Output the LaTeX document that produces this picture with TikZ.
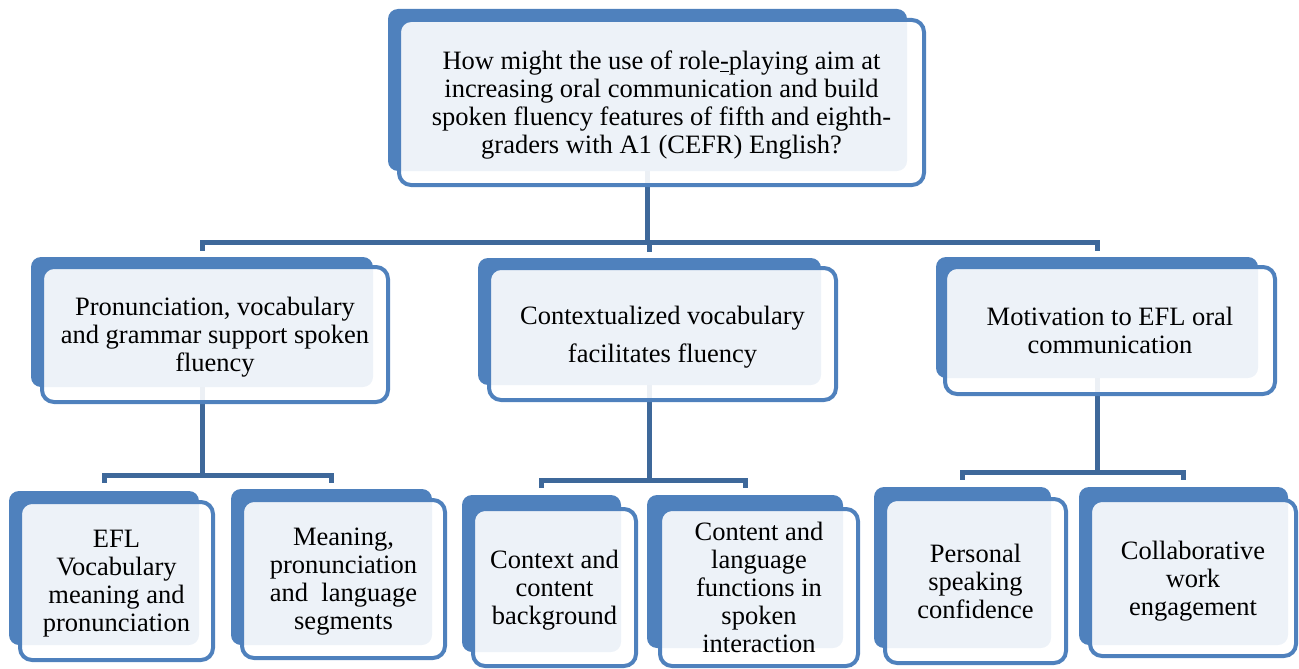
\documentclass[tikz,border=0pt]{standalone}
\usepackage{fontspec}
\setmainfont{Liberation Serif}
\definecolor{boxblue}{RGB}{79,129,189}
\definecolor{linkblue}{RGB}{62,104,154}
\begin{document}
\begin{tikzpicture}[x=1pt,y=-1pt,
		backbox/.style={rectangle,fill=boxblue,rounded corners=10pt,inner sep=0pt},
		frontbox/.style={rectangle,draw=boxblue,line width=4pt,fill=white,fill opacity=0.9,text opacity=1,rounded corners=12pt,inner sep=0pt,align=center,text depth=0pt,font=\fontsize{26.5}{28}\selectfont},
		link/.style={draw=linkblue,line width=5pt}]
		
		\useasboundingbox (0,0) rectangle (1299,669);
		
		%back boxes
		\node[backbox,minimum width=519pt,minimum height=162pt](questionbk) at (647.5,90) {};
		\node[backbox,minimum width=342pt,minimum height=130pt](pronbk) at (202,322) {};
		\node[backbox,minimum width=343pt,minimum height=127pt](contextbk) at (649.5,321.5) {};
		\node[backbox,minimum width=322pt,minimum height=121pt](motivbk) at (1097,317.5) {};
		\node[backbox,minimum width=190pt,minimum height=154pt](eflbk) at (104,568) {};
		\node[backbox,minimum width=201pt,minimum height=156pt](meaningbk) at (331.5,567) {};
		\node[backbox,minimum width=159pt,minimum height=157pt](cbgbk) at (541.5,573.5) {};
		\node[backbox,minimum width=196pt,minimum height=153pt](clangbk) at (745,571.5) {};
		\node[backbox,minimum width=177pt,minimum height=161pt](confbk) at (962.5,567.5) {};
		\node[backbox,minimum width=209pt,minimum height=158pt](collabbk) at (1183.5,566) {};
		
		%connectors
		\coordinate (qsplit) at (647.5,242);
		\draw[link] (questionbk.south) -- (qsplit);
		\draw[link] ([yshift=6pt]pronbk.north) |- (qsplit) -| ([yshift=6pt]motivbk.north);
		\draw[link] (contextbk.north |- qsplit) -- ([yshift=6pt]contextbk.north);
		\coordinate (psplit) at (202,475);
		\draw[link] (pronbk.south) -- (psplit);
		\draw[link] ([yshift=8pt]eflbk.north) |- (psplit) -| ([yshift=6pt]meaningbk.north);
		\coordinate (csplit) at (649.5,480);
		\draw[link] (contextbk.south) -- (csplit);
		\draw[link] ([yshift=7pt]cbgbk.north) |- (csplit) -| ([yshift=7pt]clangbk.north);
		\coordinate (msplit) at (1097,472);
		\draw[link] (motivbk.south) -- (msplit);
		\draw[link] ([yshift=7pt]confbk.north) |- (msplit) -| ([yshift=7pt]collabbk.north);
		
		%front boxes
		\node[frontbox,minimum width=525pt,minimum height=165pt](question) at (661.5,102.5) {How might the use of role\underline{-}playing aim at\\increasing oral communication and build\\spoken fluency features of fifth and eighth-\\graders with A1 (CEFR) English?};
		\node[frontbox,minimum width=346pt,minimum height=135pt](pron) at (215,334.5) {Pronunciation, vocabulary\\and grammar support spoken\\fluency};
		\node[frontbox,minimum width=347pt,minimum height=132pt](context) at (662.5,334) {Contextualized vocabulary\\[10pt]facilitates fluency};
		\node[frontbox,minimum width=330pt,minimum height=127pt](motiv) at (1110,330.5) {Motivation to EFL oral\\communication};
		\node[frontbox,minimum width=193pt,minimum height=158pt](efl) at (116.5,581) {EFL\\Vocabulary\\meaning and\\pronunciation};
		\node[frontbox,minimum width=203pt,minimum height=158pt](meaning) at (343.5,579) {Meaning,\\pronunciation\\and\ \ language\\segments};
		\node[frontbox,minimum width=163pt,minimum height=157pt](cbg) at (554.5,587.5) {Context and\\content\\background};
		\node[frontbox,minimum width=198pt,minimum height=157pt](clang) at (759,587.5) {Content and\\language\\functions in\\spoken\\interaction};
		\node[frontbox,minimum width=181pt,minimum height=164pt](conf) at (975.5,581) {Personal\\speaking\\confidence};
		\node[frontbox,minimum width=206pt,minimum height=156pt](collab) at (1193,578) {Collaborative\\work\\engagement};
		
\end{tikzpicture}
\end{document}
